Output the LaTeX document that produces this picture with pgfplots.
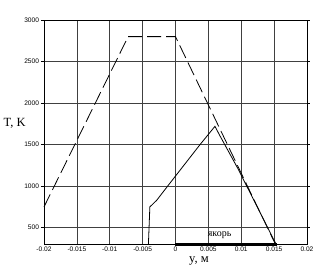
\documentclass[border=0pt]{standalone}
\usepackage{pgfplots}
\pgfplotsset{compat=1.18}
\usepackage{fontspec}
\setmainfont{Liberation Serif}
\newfontfamily\sans{Liberation Sans}
\begin{document}
\begin{tikzpicture}
\begin{axis}[
 scale only axis, width=263pt, height=224.3pt,
 xmin=-0.02, xmax=0.02, ymin=300, ymax=3000,
 scaled x ticks=false, scaled y ticks=false,
 xtick={-0.02,-0.015,-0.01,-0.005,0,0.005,0.01,0.015,0.02},
 xticklabels={-0.02,-0.015,-0.01,-0.005,0,0.005,0.01,0.015,0.02},
 ytick={500,1000,1500,2000,2500,3000},
 yticklabels={500,1000,1500,2000,2500,3000},
 grid=major, major grid style={black!75, line width=0.7pt},
 axis line style={black, line width=0.8pt},
 tick style={black, line width=0.6pt},
 xtick style={draw=none},
 tick align=outside, major tick length=3pt,
 ticklabel style={font=\sans\fontsize{6.6}{7}\selectfont},
 yticklabel style={xshift=1.5pt},
 xticklabel style={yshift=1.2pt, inner sep=1pt},
 clip=false,
]
\addplot[black, line width=0.8pt, dash pattern=on 14pt off 5pt] coordinates {
 (-0.02,750) (-0.0072,2800) (0,2800) (0.0152,300)};
\addplot[black, line width=0.8pt] coordinates {
 (-0.00412,300) (-0.0039,750) (-0.00286,830) (-0.0011,1010) (0.00373,1500)
 (0.006,1720) (0.0068,1600) (0.0095,1210) (0.0153,300)};
\addplot[black, line width=2.7pt] coordinates {(0,300) (0.0155,300)};
\node[font=\fontsize{10}{11}\selectfont] at (axis cs:0.0067,415) {якорь};
\node[font=\fontsize{12.5}{13}\selectfont] at (axis cs:-0.02446,1759) {T, K};
\node[font=\fontsize{12.5}{13}\selectfont, inner sep=0pt] at (axis cs:0.00357,95) {y, м};
\end{axis}
\path (current axis.south west) ++(-44pt,-28.7pt) rectangle ++(335pt,273pt);
\end{tikzpicture}
\end{document}
